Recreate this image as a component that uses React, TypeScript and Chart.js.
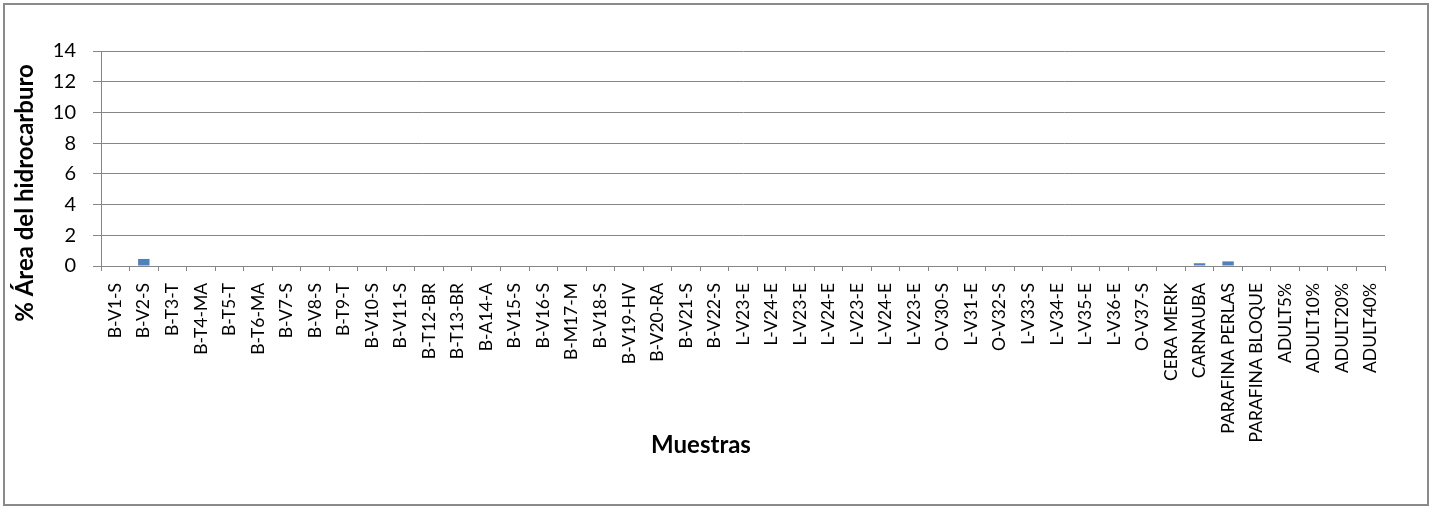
import React, { useEffect, useRef } from "react";
import { Chart, registerables } from "chart.js";

Chart.register(...registerables);

const categories: string[] = [
  "B-V1-S", "B-V2-S", "B-T3-T", "B-T4-MA", "B-T5-T", "B-T6-MA", "B-V7-S", "B-V8-S",
  "B-T9-T", "B-V10-S", "B-V11-S", "B-T12-BR", "B-T13-BR", "B-A14-A", "B-V15-S", "B-V16-S",
  "B-M17-M", "B-V18-S", "B-V19-HV", "B-V20-RA", "B-V21-S", "B-V22-S", "L-V23-E", "L-V24-E",
  "L-V23-E", "L-V24-E", "L-V23-E", "L-V24-E", "L-V23-E", "O-V30-S", "L-V31-E", "O-V32-S",
  "L-V33-S", "L-V34-E", "L-V35-E", "L-V36-E", "O-V37-S", "CERA MERK", "CARNAUBA",
  "PARAFINA PERLAS", "PARAFINA BLOQUE", "ADULT5%", "ADULT10%", "ADULT20%", "ADULT40%",
];

const areaValues: number[] = [
  0, 0.46, 0, 0, 0, 0, 0, 0,
  0, 0, 0, 0, 0, 0, 0, 0,
  0, 0, 0, 0, 0, 0, 0, 0,
  0, 0, 0, 0, 0, 0, 0, 0,
  0, 0, 0, 0, 0, 0, 0.18,
  0.3, 0, 0, 0, 0, 0,
];

const yTicks: number[] = [0, 2, 4, 6, 8, 10, 12, 14];

const xTitle = "Muestras";
const yTitle = "% Área del hidrocarburo";

const FONT = "Lato, 'Open Sans', sans-serif";
const GRID = "#868686";

const axisTitlesPlugin = {
  id: "axisTitles",
  afterDraw(chart: any) {
    const ctx = chart.ctx;
    ctx.save();
    ctx.fillStyle = "#000";
    ctx.font = `bold 24px ${FONT}`;
    ctx.textAlign = "center";
    ctx.textBaseline = "middle";
    ctx.fillText(xTitle, 701, 445);
    ctx.translate(25, 193);
    ctx.rotate(-Math.PI / 2);
    ctx.fillText(yTitle, 0, 0);
    ctx.restore();
  },
};

export default function App() {
  const ref = useRef<HTMLCanvasElement | null>(null);

  useEffect(() => {
    if (!ref.current) return;
    const chart = new Chart(ref.current, {
      type: "bar",
      data: {
        labels: categories,
        datasets: [
          {
            label: "% Área",
            data: areaValues,
            backgroundColor: "#4F81BD",
            borderWidth: 0,
            barPercentage: 0.4,
            categoryPercentage: 1,
          },
        ],
      },
      plugins: [axisTitlesPlugin],
      options: {
        responsive: false,
        animation: false,
        layout: { padding: { top: 51, right: 52, bottom: 46, left: 0 } },
        plugins: { legend: { display: false }, tooltip: { enabled: false } },
        scales: {
          x: {
            offset: true,
            grid: {
              display: true,
              drawOnChartArea: false,
              drawTicks: true,
              tickLength: 5,
              color: GRID,
              offset: true,
            },
            border: { color: GRID, width: 1 },
            ticks: {
              autoSkip: false,
              minRotation: 90,
              maxRotation: 90,
              padding: 12,
              color: "#000",
              font: { family: FONT, size: 17.5 },
            },
            afterFit: (scale: any) => {
              scale.height = 196;
            },
          },
          y: {
            min: 0,
            max: 14,
            afterBuildTicks: (scale: any) => {
              scale.ticks = yTicks.map((v) => ({ value: v }));
            },
            grid: { color: GRID, tickLength: 8, drawTicks: true },
            border: { color: GRID, width: 1 },
            ticks: {
              padding: 17,
              color: "#000",
              font: { family: FONT, size: 20 },
            },
            afterFit: (scale: any) => {
              scale.width = 101;
            },
          },
        },
      },
    });
    return () => chart.destroy();
  }, []);

  return (
    <div
      style={{
        position: "fixed",
        left: 0,
        top: 0,
        width: 1437,
        height: 508,
        overflow: "hidden",
        background: "#fff",
      }}
    >
      <canvas ref={ref} width={1437} height={508} style={{ display: "block" }} />
      <div
        style={{
          position: "absolute",
          left: 3,
          top: 3,
          width: 1426,
          height: 503,
          border: "2px solid #8a8a8a",
          boxSizing: "border-box",
          pointerEvents: "none",
        }}
      />
    </div>
  );
}
